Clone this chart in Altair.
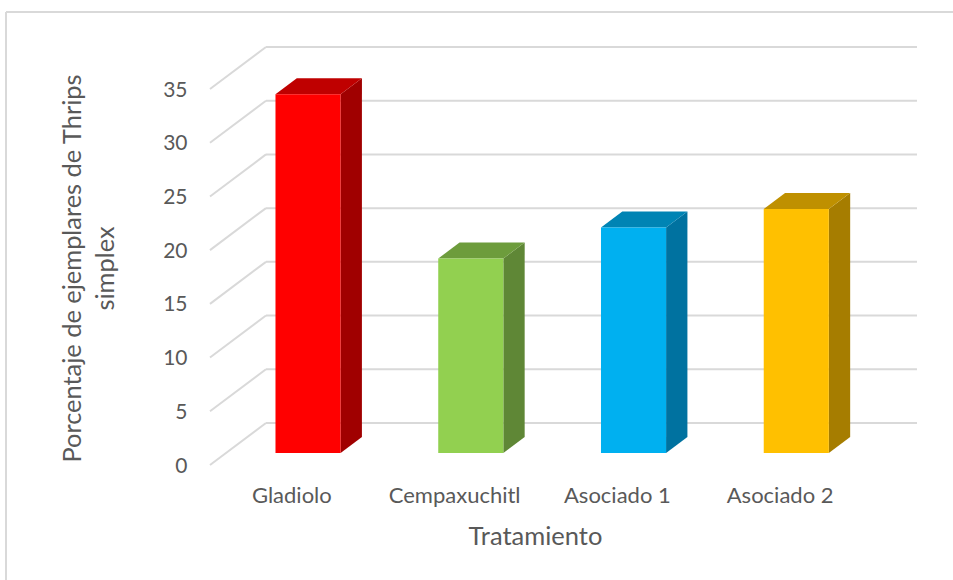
import altair as alt
import pandas as pd

# Series
categories = ["Gladiolo", "Cempaxuchitl", "Asociado 1", "Asociado 2"]
values = [33.4, 18.1, 21.0, 22.7]
front_colors = ["#ff0000", "#92d050", "#00b0f0", "#ffc000"]
top_colors = ["#bf0000", "#6d9c3c", "#0084b4", "#bf9000"]
side_colors = ["#a00000", "#5f8736", "#0072a0", "#a67d00"]
y_ticks = [0, 5, 10, 15, 20, 25, 30, 35]

# Oblique projection of the floor, in axis units: depth 0 is the front edge,
# depth 1 the back wall
DEPTH_X = 56 / 162.8
DEPTH_Y = 42 / 10.74
BAR_HALF = 0.2
BAR_NEAR, BAR_FAR = 0.286, 0.667
BAR_SHIFT = 0.004

x_scale = alt.Scale(domain=[0, 4], nice=False, zero=False)
y_scale = alt.Scale(domain=[0, 35], nice=False, zero=False)

# Axes carry the tick labels and titles only; the grid below replaces their lines
names_expr = "[" + ",".join(f"'{c}'" for c in categories) + "][floor(datum.value)]"
X = alt.X("x:Q", scale=x_scale, title="Tratamiento", axis=alt.Axis(
    values=[0.5, 1.5, 2.5, 3.5], labelExpr=names_expr, grid=False, domain=False,
    ticks=False, labelPadding=20, labelFontSize=22, labelColor="#595959",
    labelFont="Lato", titleFont="Lato", titleFontSize=25.5, titleFontWeight="normal",
    titleColor="#595959", labelOverlap=False, titleX=325, titleY=59,
))
Y = alt.Y("y:Q", scale=y_scale, title=["Porcentaje de ejemplares de Thrips", "simplex"],
          axis=alt.Axis(
    values=y_ticks, grid=False, domain=False, ticks=False, labelPadding=23,
    labelOffset=1, labelFontSize=21, labelColor="#595959", labelFont="Lato",
    titleFont="Lato", titleFontSize=25.4, titleFontWeight="normal", titleColor="#595959",
    titleLineHeight=33, titleX=-125, titleY=179,
))


def px(i, side, depth):
    return i + 0.5 + BAR_SHIFT + side * BAR_HALF + depth * DEPTH_X


def py(v, depth):
    return v + depth * DEPTH_Y


back = pd.DataFrame({
    "x": [DEPTH_X] * len(y_ticks),
    "x2": [4 + DEPTH_X] * len(y_ticks),
    "y": [v + DEPTH_Y for v in y_ticks],
})
diagonal = pd.DataFrame({
    "x": [0.0] * len(y_ticks),
    "x2": [DEPTH_X] * len(y_ticks),
    "y": y_ticks,
    "y2": [v + DEPTH_Y for v in y_ticks],
})

grid_back = alt.Chart(back).mark_rule(color="#d9d9d9", strokeWidth=2).encode(
    X, x2="x2:Q", y=Y
)
grid_side = alt.Chart(diagonal).mark_rule(color="#d9d9d9", strokeWidth=2).encode(
    X, x2="x2:Q", y=Y, y2="y2:Q"
)

front_rows, side_rows, top_rows = [], [], []
for i, (v, fc, tc, sc) in enumerate(zip(values, front_colors, top_colors, side_colors)):
    front_rows.append({
        "x": px(i, -1, BAR_NEAR), "x2": px(i, 1, BAR_NEAR),
        "y": py(0, BAR_NEAR), "y2": py(v, BAR_NEAR), "c": fc,
    })
    for d in (BAR_NEAR, BAR_FAR):
        side_rows.append({"x": px(i, 1, d), "y": py(0, d), "y2": py(v, d), "c": sc})
        top_rows.append({"y": py(v, d), "x": px(i, -1, d), "x2": px(i, 1, d), "c": tc})

faces_front = alt.Chart(pd.DataFrame(front_rows)).mark_rect().encode(
    X, x2="x2:Q", y=Y, y2="y2:Q", color=alt.Color("c:N", scale=None)
)
faces_side = alt.Chart(pd.DataFrame(side_rows)).mark_area(orient="vertical").encode(
    X, y=Y, y2="y2:Q", color=alt.Color("c:N", scale=None)
)
faces_top = alt.Chart(pd.DataFrame(top_rows)).mark_area(orient="horizontal").encode(
    X, x2="x2:Q", y=Y, color=alt.Color("c:N", scale=None)
)

# Outer frame of the chart area
frame_data = pd.DataFrame({"x": [0.0]})
frame_top = alt.Chart(frame_data).mark_rule(color="#d9d9d9", strokeWidth=2).encode(
    x=alt.value(-204), x2=alt.value(743), y=alt.value(-77)
)
frame_left = alt.Chart(frame_data).mark_rule(color="#d9d9d9", strokeWidth=2).encode(
    x=alt.value(-204), y=alt.value(-77), y2=alt.value(491)
)

chart = (
    alt.layer(grid_back, grid_side, faces_side, faces_top, faces_front,
              frame_top, frame_left)
    .properties(
        width=651, height=376,
        padding={"left": 210, "top": 89, "right": 92, "bottom": 115},
        autosize=alt.AutoSizeParams(type="none"),
        background="#ffffff",
    )
    .configure_view(stroke=None)
)

chart.save("out.html", embed_options={"renderer": "svg", "actions": False})
